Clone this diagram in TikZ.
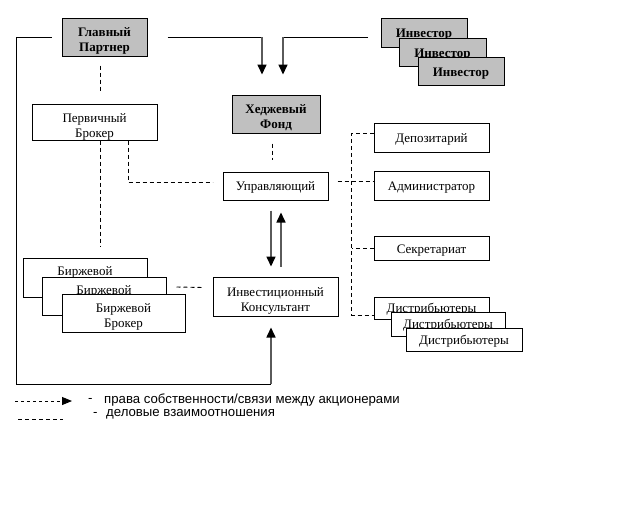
\documentclass[tikz,border=0pt]{standalone}
\usepackage{fontspec}
\setmainfont{Liberation Serif}
\newfontfamily\legendfont{Liberation Sans}
\usetikzlibrary{arrows.meta}
\definecolor{boxgray}{HTML}{C0C0C0}
\definecolor{shaft}{HTML}{5A5A5A}
\newcommand{\shiftedtext}[2]{\raisebox{#1}[\height][\depth]{\begin{tabular}{@{}c@{}}#2\end{tabular}}}
\begin{document}
\begin{tikzpicture}[x=1pt,y=-1pt,
  box/.style={draw=black, line width=1pt, fill=white, inner sep=0pt, align=center,
              font=\fontsize{13}{15}\selectfont},
  gbox/.style={box, fill=boxgray, font=\fontsize{13}{15}\selectfont\bfseries},
  solid line/.style={draw=black, line width=1pt},
  arr/.style={draw=shaft, line width=1.6pt, -{Triangle[width=9pt,length=10pt,color=black]}},
  biz/.style={draw=black, line width=0.9pt, dash pattern=on 4pt off 3pt},
  legtext/.style={anchor=west, inner sep=0pt, font=\legendfont\fontsize{13.2}{15}\selectfont}]
\useasboundingbox (0,0) rectangle (640,512);
\fill[white] (0,0) rectangle (640,512);

% top row
\node[gbox, minimum width=85pt, minimum height=38pt] (gp) at (104.5,37) {\shiftedtext{-4pt}{Главный\\Партнер}};
\node[gbox, minimum width=86pt, minimum height=29pt] (inv1) at (424,32.5) {\shiftedtext{-2pt}{Инвестор}};
\node[gbox, minimum width=87pt, minimum height=28pt] (inv2) at (442.5,52) {\shiftedtext{-2pt}{Инвестор}};
\node[gbox, minimum width=86pt, minimum height=28pt] (inv3) at (461,71) {\shiftedtext{-2pt}{Инвестор}};
\node[gbox, minimum width=88pt, minimum height=38pt] (hf) at (276,114) {\shiftedtext{-4pt}{Хеджевый\\Фонд}};

% left column
\node[box, minimum width=125pt, minimum height=36pt] (pb) at (94.5,122) {\shiftedtext{-5pt}{Первичный\\Брокер}};
\node[box, minimum width=124pt, minimum height=39pt] (bb1) at (85,277.5) {\shiftedtext{5pt}{Биржевой}};
\node[box, minimum width=124pt, minimum height=38pt] (bb2) at (104,296) {\shiftedtext{5pt}{Биржевой}};
\node[box, minimum width=123pt, minimum height=38pt] (bb3) at (123.5,313) {\shiftedtext{-4pt}{Биржевой\\Брокер}};

% middle
\node[box, minimum width=105pt, minimum height=28pt] (mgr) at (275.5,186) {\shiftedtext{-1.5pt}{Управляющий}};
\node[box, minimum width=125pt, minimum height=39pt] (ic) at (275.5,296.5) {\shiftedtext{-4pt}{Инвестиционный\\Консультант}};

% right column
\node[box, minimum width=115pt, minimum height=29pt] (dep) at (431.5,137.5) {\shiftedtext{-2pt}{Депозитарий}};
\node[box, minimum width=115pt, minimum height=29pt] (adm) at (431.5,185.5) {\shiftedtext{-2pt}{Администратор}};
\node[box, minimum width=115pt, minimum height=24pt] (sec) at (431.5,248) {\shiftedtext{-2.5pt}{Секретариат}};
\node[box, minimum width=115pt, minimum height=22pt] (d1) at (431.5,308) {\shiftedtext{-1.5pt}{Дистрибьютеры}};
\node[box, minimum width=114pt, minimum height=24pt] (d2) at (448,324) {\shiftedtext{-1.5pt}{Дистрибьютеры}};
\node[box, minimum width=116pt, minimum height=23pt] (d3) at (464,339.5) {\shiftedtext{-2pt}{Дистрибьютеры}};

% ownership lines
\coordinate (c1) at (16,384);
\coordinate (c2) at (271,384);
\draw[solid line] ([xshift=-10pt]gp.west) -| (c1) -- (c2);
\draw[arr] (c2) -- ([yshift=-11pt]c2 |- ic.south);

\coordinate (t1) at (262,37);
\draw[solid line] ([xshift=20pt]gp.east) -- (t1);
\draw[arr] (t1) -- ([yshift=20pt]t1 |- hf.north);

\coordinate (i0) at (368,37);
\coordinate (t2) at (283,37);
\draw[solid line] (i0) -- (t2);
\draw[arr] (t2) -- ([yshift=20pt]t2 |- hf.north);

\coordinate (xl) at (271,0);
\coordinate (xr) at (281,0);
\draw[arr] ([yshift=-10pt]xl |- mgr.south) -- ([yshift=10pt]xl |- ic.north);
\draw[arr] ([yshift=10pt]xr |- ic.north) -- ([yshift=-12pt]xr |- mgr.south);

% business relations
\coordinate (xa) at (100,0);
\coordinate (xb) at (128,0);
\coordinate (xh) at (272,0);
\draw[biz] ([yshift=-9pt]xa |- gp.south) -- ([yshift=11pt]xa |- pb.north);
\draw[biz] (xa |- pb.south) -- ([yshift=11pt]xa |- bb1.north);
\draw[biz] (xb |- pb.south) |- ([xshift=-10pt,yshift=4pt]mgr.west);
\draw[biz] ([yshift=-10pt]xh |- hf.south) -- ([yshift=12pt]xh |- mgr.north);
\draw[biz] ([xshift=10pt,yshift=9pt]bb2.east) -- ([xshift=-9pt,yshift=9pt]ic.west);
\draw[biz] ([xshift=9pt,yshift=5pt]mgr.east) -- ([yshift=4.5pt]adm.west);
\draw[biz] ([yshift=4.5pt]dep.west) -| ([xshift=-22pt,yshift=-7pt]d1.west) -- ([yshift=-7pt]d1.west);
\draw[biz] (sec.west) -- ++(-22,0);

% legend
\coordinate (la) at (15,401);
\coordinate (lb) at (72,401);
\draw[draw=black, line width=0.9pt, dash pattern=on 3pt off 3pt, -{Triangle[width=8pt,length=10pt,color=black]}] (la) -- (lb);
\node[legtext] (ld1) at (88,400) {-};
\node[legtext] (lt1) at (104,400) {права собственности/связи между акционерами};
\coordinate (lc) at (18,419);
\coordinate (ld) at (63,419);
\draw[draw=black, line width=0.9pt, dash pattern=on 4pt off 3pt] (lc) -- (ld);
\node[legtext] (ld2) at (93,414) {-};
\node[legtext] (lt2) at (106,414) {деловые взаимоотношения};
\end{tikzpicture}
\end{document}
